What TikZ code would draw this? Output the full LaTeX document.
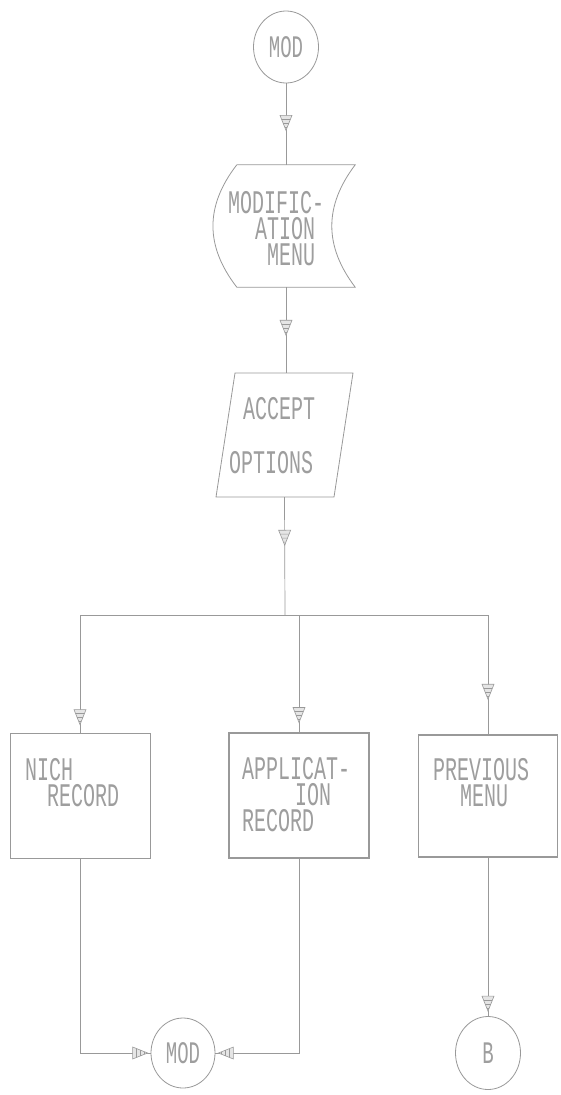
\documentclass[tikz,border=0pt]{standalone}
\usepackage{fontspec}
\usepackage{graphicx}
\newfontfamily\plotfont{Liberation Mono}
\usetikzlibrary{shapes.geometric,decorations.markings}
\newcommand\ptxt[1]{\scalebox{1}[1.65]{#1}}
\newcommand\plothead{%
  \draw[black!40, line width=0.6pt, fill=black!10] (0,0) -- (-15,6) -- (-15,-6) -- cycle;
  \draw[black!40, line width=0.5pt] (-11,4.4) -- (-11,-4.4) (-7,2.8) -- (-7,-2.8) (-3,1.2) -- (-3,-1.2);}
\AtBeginDocument{\lineskiplimit=-100pt\relax}
\begin{document}
\begin{tikzpicture}[x=1pt,y=-1pt,
  line/.style={draw=black!40, line width=0.7pt},
  box/.style={rectangle, draw=black!40, line width=0.8pt, inner sep=0pt},
  term/.style={ellipse, draw=black!40, line width=0.8pt, inner sep=0pt,
    font=\plotfont\fontsize{19}{19}\selectfont, text=black!38},
  lbl/.style={anchor=north west, inner sep=0pt, align=left,
    font=\plotfont\fontsize{20}{26}\selectfont, text=black!38},
  arrmark/.style={postaction={decorate},
    decoration={markings, mark=at position #1 with {\plothead}}},
]
\useasboundingbox (0,0) rectangle (560,1095);
\fill[white] (0,0) rectangle (560,1095);

% terminals
\node[term, minimum width=65pt, minimum height=72pt] (mod1) at (286,47) {\ptxt{MOD}};
\node[term, minimum width=64pt, minimum height=70pt] (mod2) at (183,1053) {\ptxt{MOD}};
\node[term, minimum width=65pt, minimum height=73pt] (B) at (488,1053) {\ptxt{B}};

% modification menu (display shape)
\node[rectangle, minimum width=118pt, minimum height=122pt, inner sep=0pt] (menu) at (296,226) {};
\draw[line, line width=0.8pt] (menu.north west) -- (menu.north east)
  .. controls (324,206) and (324,246) .. (menu.south east)
  -- (menu.south west)
  .. controls (205,246) and (205,206) .. (menu.north west);

% accept options (parallelogram)
\node[rectangle, minimum width=137pt, minimum height=124pt, inner sep=0pt] (acc) at (284.5,435) {};
\draw[line, line width=0.8pt] (235,373) -- (353,373) -- (334,497) -- (216,497) -- cycle;

% process boxes
\node[box, minimum width=140pt, minimum height=125pt] (box1) at (80,795.5) {};
\node[box, line width=1.1pt, minimum width=140pt, minimum height=125pt] (box2) at (299,795.5) {};
\node[box, line width=1.5pt, minimum width=139pt, minimum height=122pt] (box3) at (488,796) {};

% texts (one block per symbol)
\node[lbl] (tmenu) at (228,191) {\ptxt{MODIFIC-}\\ \hspace*{27pt}\ptxt{ATION}\\ \hspace*{39pt}\ptxt{MENU}};
\node[lbl] (tacc) at (229,397) {\hspace*{14pt}\ptxt{ACCEPT}\\[28pt] \ptxt{OPTIONS}};
\node[lbl] (tbox1) at (25,758) {\ptxt{NICH}\\ \hspace*{22pt}\ptxt{RECORD}};
\node[lbl] (tbox2) at (242,757) {\ptxt{APPLICAT-}\\ \hspace*{53pt}\ptxt{ION}\\ \ptxt{RECORD}};
\node[lbl] (tbox3) at (433,758) {\ptxt{PREVIOUS}\\ \hspace*{27pt}\ptxt{MENU}};

% connectors
\coordinate (junc) at (285,615);
\draw[line, arrmark=47pt] (mod1.south) -- (menu.north -| mod1.south);
\draw[line, arrmark=48pt] (menu.south -| mod1.south) -- (acc.north -| mod1.south);
\draw[line, arrmark=48pt] (acc.south) -- (junc);
\draw[line] (box1.north |- junc) -- (box3.north |- junc);
\draw[line, arrmark=-8pt] (box1.north |- junc) -- (box1.north);
\draw[line, arrmark=-10pt] (box2.north |- junc) -- (box2.north);
\draw[line, arrmark=-35pt] (box3.north |- junc) -- (box3.north);
\draw[line, arrmark=-3pt] (box1.south) |- (mod2.west);
\draw[line, arrmark=-3pt] (box2.south) |- (mod2.east);
\draw[line, arrmark=-5pt] (box3.south) -- (B.north);
\end{tikzpicture}
\end{document}
